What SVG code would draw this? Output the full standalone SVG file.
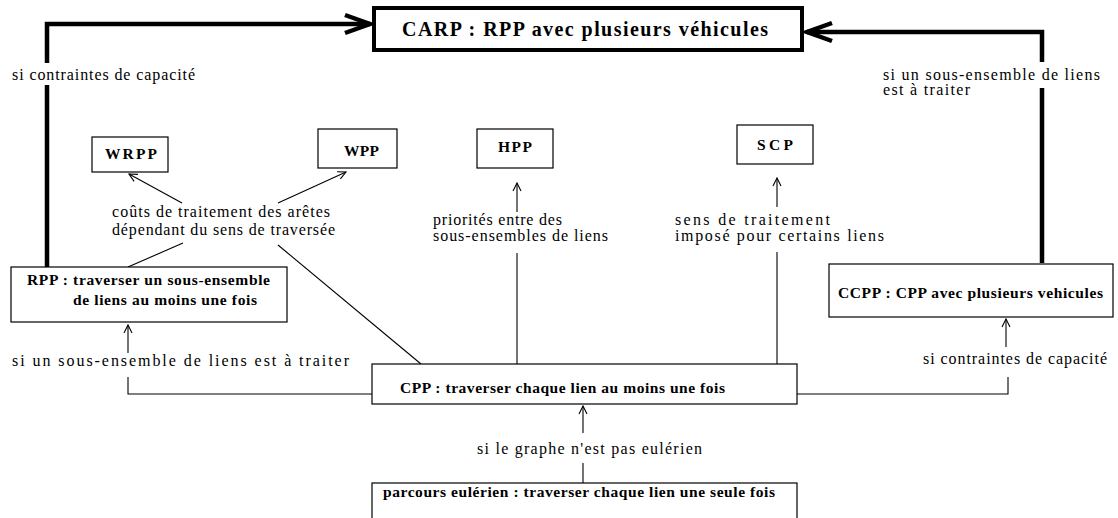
<svg xmlns="http://www.w3.org/2000/svg" width="1118" height="518" viewBox="0 0 1118 518">
<style>
  .box { fill: #fff; stroke: #000; stroke-width: 1.2; }
  .bigbox { fill: #fff; stroke: #000; stroke-width: 4; }
  .lbl { font-family: "Liberation Serif", "Times New Roman", serif; font-size: 16px; fill: #000; }
  .nt { font-family: "Liberation Serif", "Times New Roman", serif; font-size: 15.5px; font-weight: bold; fill: #000; }
  .big { font-family: "Liberation Serif", "Times New Roman", serif; font-size: 20px; font-weight: bold; fill: #000; }
  .thin { fill: none; stroke: #000; stroke-width: 1.1; }
  .thick { fill: none; stroke: #000; stroke-width: 4.5; }
</style>
<defs>
  <marker id="ah" markerUnits="userSpaceOnUse" viewBox="-10 -6 12 12" refX="0" refY="0" markerWidth="12" markerHeight="12" orient="auto" overflow="visible">
    <path d="M-8,-4 L0,0 L-8,4" fill="none" stroke="#000" stroke-width="1.1"/>
  </marker>
  <marker id="ahBig" markerUnits="userSpaceOnUse" viewBox="-30 -12 34 24" refX="0" refY="0" markerWidth="34" markerHeight="24" orient="auto" overflow="visible">
    <path d="M-25,-9 L0,0 L-25,9" fill="none" stroke="#000" stroke-width="4.5"/>
  </marker>
</defs>
<rect x="0" y="0" width="1118" height="518" fill="#fff"/>

<g id="connectors">
  <path class="thick" d="M47,268 V85"/>
  <path class="thick" d="M47,63 V24 H370" marker-end="url(#ahBig)"/>
  <path class="thick" d="M1042,263 V88"/>
  <path class="thick" d="M1042,62 V32 H807" marker-end="url(#ahBig)"/>

  <line class="thin" x1="182" y1="203" x2="129" y2="174" marker-end="url(#ah)"/>
  <line class="thin" x1="278" y1="203" x2="346" y2="172" marker-end="url(#ah)"/>
  <line class="thin" x1="183" y1="243" x2="128" y2="267"/>
  <line class="thin" x1="278" y1="245" x2="421" y2="364"/>

  <line class="thin" x1="517" y1="212" x2="517" y2="183" marker-end="url(#ah)"/>
  <line class="thin" x1="517" y1="253" x2="517" y2="364"/>
  <line class="thin" x1="777" y1="207" x2="777" y2="178" marker-end="url(#ah)"/>
  <line class="thin" x1="777" y1="252" x2="777" y2="364"/>

  <line class="thin" x1="128" y1="353" x2="128" y2="325" marker-end="url(#ah)"/>
  <path class="thin" d="M372,394 H128 V377"/>
  <line class="thin" x1="1006" y1="347" x2="1006" y2="319" marker-end="url(#ah)"/>
  <path class="thin" d="M797,394 H1008 V377"/>

  <line class="thin" x1="583" y1="433" x2="583" y2="406" marker-end="url(#ah)"/>
  <line class="thin" x1="583" y1="463" x2="583" y2="483"/>

  <text class="lbl" x="12" y="80" textLength="183">si contraintes de capacité</text>
  <text class="lbl" x="883" y="80" textLength="217">si un sous-ensemble de liens</text>
  <text class="lbl" x="883" y="95" textLength="87">est à traiter</text>
  <text class="lbl" x="112" y="217" textLength="218">coûts de traitement des arêtes</text>
  <text class="lbl" x="112" y="235" textLength="223">dépendant du sens de traversée</text>
  <text class="lbl" x="433" y="225" textLength="129">priorités entre des</text>
  <text class="lbl" x="433" y="241" textLength="175">sous-ensembles de liens</text>
  <text class="lbl" x="675" y="225" textLength="155">sens de traitement</text>
  <text class="lbl" x="675" y="241" textLength="209">imposé pour certains liens</text>
  <text class="lbl" x="12" y="366" textLength="337">si un sous-ensemble de liens est à traiter</text>
  <text class="lbl" x="923" y="364" textLength="184">si contraintes de capacité</text>
  <text class="lbl" x="477" y="454" textLength="225">si le graphe n'est pas eulérien</text>
</g>

<g id="carp">
  <rect class="bigbox" x="374" y="8" width="428" height="42"/>
  <text class="big" x="402" y="36" textLength="366">CARP : RPP avec plusieurs véhicules</text>
</g>
<g id="wrpp">
  <rect class="box" x="92" y="137" width="76" height="35"/>
  <text class="nt" x="105" y="159" textLength="52">WRPP</text>
</g>
<g id="wpp">
  <rect class="box" x="318" y="129" width="79" height="39"/>
  <text class="nt" x="344" y="156" textLength="35">WPP</text>
</g>
<g id="hpp">
  <rect class="box" x="477" y="129" width="76" height="39"/>
  <text class="nt" x="498" y="152" textLength="34">HPP</text>
</g>
<g id="scp">
  <rect class="box" x="737" y="125" width="76" height="39"/>
  <text class="nt" x="757" y="150" textLength="36">SCP</text>
</g>
<g id="rpp">
  <rect class="box" x="11" y="267" width="276" height="55"/>
  <text class="nt" x="27" y="285" textLength="243">RPP : traverser un sous-ensemble</text>
  <text class="nt" x="73" y="305" textLength="184">de liens au moins une fois</text>
</g>
<g id="ccpp">
  <rect class="box" x="829" y="264" width="284" height="53"/>
  <text class="nt" x="838" y="298" textLength="265">CCPP : CPP avec plusieurs vehicules</text>
</g>
<g id="cpp">
  <rect class="box" x="372" y="364" width="425" height="40"/>
  <text class="nt" x="400" y="393" textLength="325">CPP : traverser chaque lien au moins une fois</text>
</g>
<g id="euler">
  <rect class="box" x="372" y="483" width="425" height="50"/>
  <text class="nt" x="383" y="497" textLength="392">parcours eulérien : traverser chaque lien une seule fois</text>
</g>
</svg>
